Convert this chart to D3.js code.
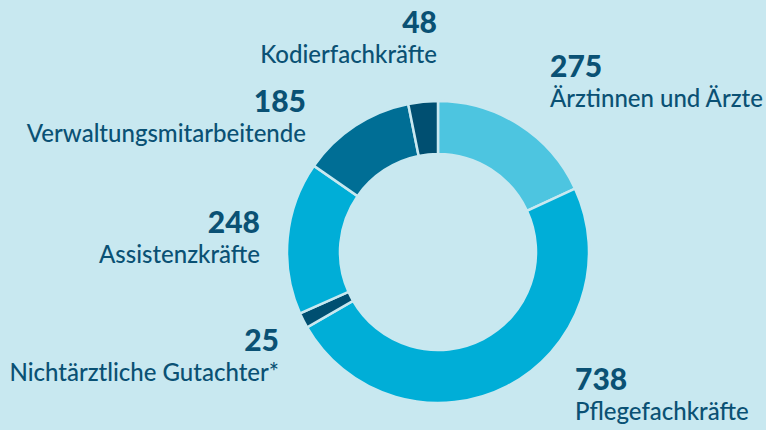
<!DOCTYPE html>
<html lang="de">
<head>
<meta charset="utf-8">
<script src="https://cdn.jsdelivr.net/npm/d3@7"></script>
<style>
  html, body { margin: 0; padding: 0; background: #c8e8f0; }
  svg { display: block; }
  .num { font-family: Lato, "Noto Sans", sans-serif; font-weight: 900; font-size: 30px; fill: #0a5174; }
  .lbl { font-family: Lato, "Noto Sans", sans-serif; font-weight: 500; font-size: 24px; fill: #0a5174; }
</style>
</head>
<body>
<svg id="chart" width="766" height="430"></svg>
<script>
// Staff groups, clockwise from 12 o'clock
const categories = ["Ärztinnen und Ärzte", "Pflegefachkräfte", "Nichtärztliche Gutachter*", "Assistenzkräfte", "Verwaltungsmitarbeitende", "Kodierfachkräfte"];
const values = [275, 738, 25, 248, 185, 48];
const colors = ["#4dc5e0", "#00aed7", "#004f71", "#00aed7", "#006e95", "#004f71"];

// Label anchor per group: [x, y of number baseline, text-anchor]
const labelPos = [
  [550, 77, "start"],
  [575, 390, "start"],
  [279, 351, "end"],
  [260, 233, "end"],
  [306, 112, "end"],
  [437, 33, "end"]
];

const svg = d3.select("#chart");
const bg = "#c8e8f0";
svg.append("rect").attr("width", 766).attr("height", 430).attr("fill", bg);

const cx = 438, cy = 252, outerR = 151, innerR = 98;

const pie = d3.pie().sort(null).value(d => d)(values);
const arc = d3.arc().innerRadius(innerR).outerRadius(outerR);

const g = svg.append("g").attr("transform", `translate(${cx},${cy})`);
g.selectAll("path.slice")
  .data(pie)
  .join("path")
  .attr("class", "slice")
  .attr("d", arc)
  .attr("fill", (d, i) => colors[i])
  .attr("stroke", bg)
  .attr("stroke-width", 2.5)
  .attr("stroke-linejoin", "miter");

// Value and group name for each slice
const labels = svg.selectAll("g.label")
  .data(categories)
  .join("g")
  .attr("class", "label");

labels.append("text")
  .attr("class", "num")
  .attr("x", (d, i) => labelPos[i][0])
  .attr("y", (d, i) => labelPos[i][1])
  .attr("text-anchor", (d, i) => labelPos[i][2])
  .text((d, i) => values[i]);

labels.append("text")
  .attr("class", "lbl")
  .attr("x", (d, i) => labelPos[i][0])
  .attr("y", (d, i) => labelPos[i][1] + 30)
  .attr("text-anchor", (d, i) => labelPos[i][2])
  .text(d => d);
</script>
</body>
</html>
